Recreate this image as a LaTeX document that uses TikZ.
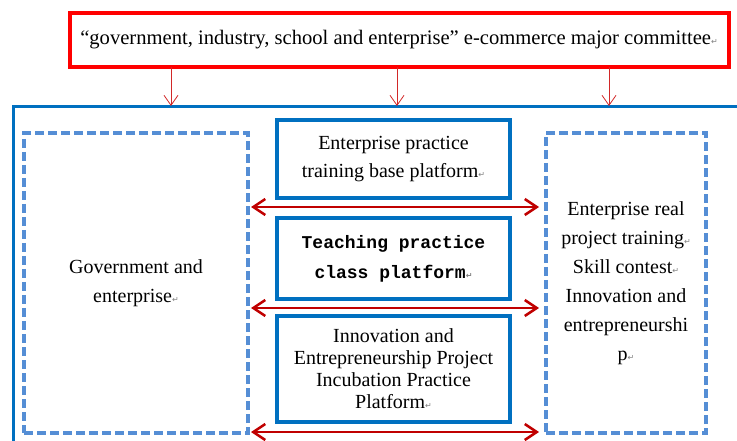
\documentclass[tikz,border=0pt]{standalone}
\usepackage{fontspec}
\setmainfont{Liberation Serif}
\newfontfamily\platmono{Liberation Mono}
\newfontfamily\marksymbol{DejaVu Sans}
\usetikzlibrary{arrows.meta}
\definecolor{framered}{RGB}{255,0,0}
\definecolor{feedred}{RGB}{210,40,40}
\definecolor{linkred}{RGB}{192,0,0}
\definecolor{boxblue}{RGB}{0,112,192}
\definecolor{dashblue}{RGB}{85,142,213}
\newcommand{\retmark}{{\marksymbol\fontsize{8}{8}\selectfont\textcolor{gray}{↵}}}

\begin{document}
\begin{tikzpicture}[x=1pt, y=-1pt,
    font=\fontsize{20}{29}\selectfont,
    every node/.style={outer sep=0pt, inner sep=0pt, align=center},
    platform/.style={draw=boxblue, line width=4pt, minimum width=233pt},
    side/.style={draw=dashblue, line width=3.5pt, dash pattern=on 9pt off 4pt, minimum width=224pt, minimum height=300pt},
    feed/.style={draw=feedred, line width=0.8pt, shorten >=1pt, -{Straight Barb[length=10pt,width=14pt]}},
    link/.style={draw=linkred, line width=2.5pt, shorten <=3pt, shorten >=7pt, {Straight Barb[length=12pt,width=16pt]}-{Straight Barb[length=12pt,width=16pt]}}]
    % page
    \clip (0,0) rectangle (737,441);
    % committee
    \node [draw=framered, line width=4pt, minimum width=659pt, minimum height=54pt, font=\fontsize{20.6}{29}\selectfont] (committee) at (399,40) {“government, industry, school and enterprise” e-commerce major committee\retmark};
    % outer frame, runs off the page
    \node [draw=boxblue, line width=3pt, minimum width=760pt, minimum height=360pt, anchor=north west] (frame) at (13,107) {};
    % side boxes
    \node [side] (gov) at (136,283) {Government and\\enterprise\retmark};
    \node [side, minimum width=160pt] (act) at (626,283) {Enterprise real\\project training\retmark\\Skill contest\retmark\\Innovation and\\entrepreneurshi\\p\retmark};
    % platforms
    \node [platform, minimum height=78pt, font=\fontsize{20}{28}\selectfont] (base) at (393.5,159) {Enterprise practice\\training base platform\retmark};
    \node [platform, minimum height=81pt, font=\platmono\bfseries\fontsize{18}{30}\selectfont] (class) at (393.5,258.5) {Teaching practice\\class platform\retmark};
    \node [platform, minimum height=106pt, font=\fontsize{20}{22}\selectfont] (incub) at (393.5,369) {Innovation and\\Entrepreneurship Project\\Incubation Practice\\Platform\retmark};
    % committee to frame
    \foreach \x in {171,397,609} {
      \coordinate (drop) at (\x,0);
      \draw [feed] (committee.south -| drop) -- (frame.north -| drop);
    }
    % links between the sides
    \foreach \y in {207,308,432} {
      \coordinate (lvl) at (0,\y);
      \draw [link] (gov.east |- lvl) -- (act.west |- lvl);
    }
\end{tikzpicture}
\end{document}
